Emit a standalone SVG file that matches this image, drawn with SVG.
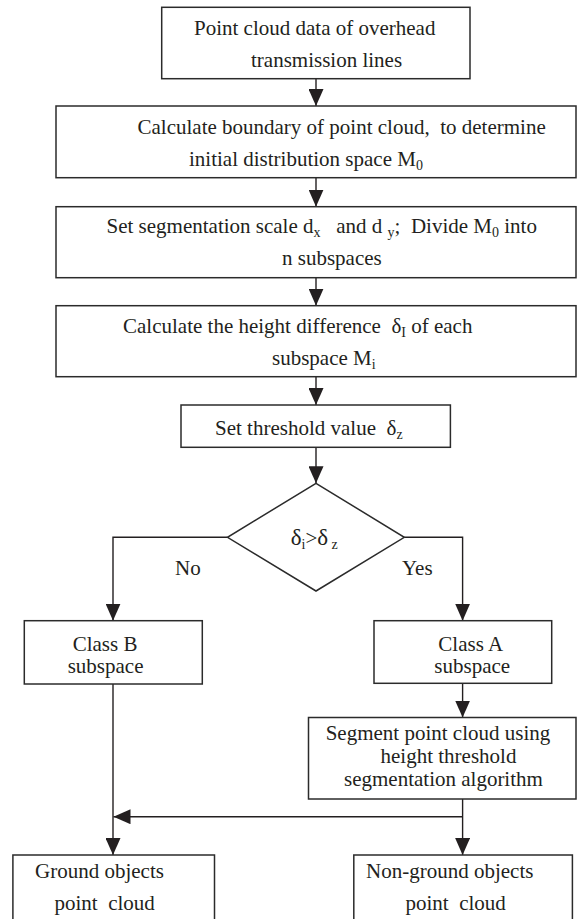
<svg xmlns="http://www.w3.org/2000/svg" width="578" height="919" viewBox="0 0 578 919">
<style>
  .box{fill:#fff;stroke:#2b2b2b;stroke-width:1.5}
  .t{font-family:"Liberation Serif","Times New Roman",serif;font-size:21px;fill:#231f20;white-space:pre}
  .s{font-size:14px}
  .c{fill:none;stroke:#231f20;stroke-width:1.4}
</style>
<defs>
  <marker id="ah" markerUnits="userSpaceOnUse" markerWidth="18" markerHeight="15" refX="17" refY="7.5" orient="auto">
    <path d="M0,0 L17,7.5 L0,15 z" fill="#231f20"/>
  </marker>
</defs>
<rect width="578" height="919" fill="#fff"/>
<g id="connectors">
  <line class="c" x1="316" y1="78.7" x2="316" y2="106" marker-end="url(#ah)"/>
  <line class="c" x1="316" y1="177.7" x2="316" y2="206.7" marker-end="url(#ah)"/>
  <line class="c" x1="316" y1="277.7" x2="316" y2="305.7" marker-end="url(#ah)"/>
  <line class="c" x1="316" y1="376.7" x2="316" y2="405" marker-end="url(#ah)"/>
  <line class="c" x1="316" y1="447.3" x2="316" y2="483.3" marker-end="url(#ah)"/>
  <polyline class="c" points="227.5,537.3 113,537.3 113,620.7" marker-end="url(#ah)"/>
  <polyline class="c" points="404.3,537.3 462.6,537.3 462.6,620.7" marker-end="url(#ah)"/>
  <line class="c" x1="462.6" y1="683.3" x2="462.6" y2="717.5" marker-end="url(#ah)"/>
  <line class="c" x1="113" y1="684" x2="113" y2="855" marker-end="url(#ah)"/>
  <line class="c" x1="462.6" y1="799" x2="462.6" y2="855" marker-end="url(#ah)"/>
  <line class="c" x1="462.6" y1="816.7" x2="113.5" y2="816.7" marker-end="url(#ah)"/>
</g>
<g id="n1">
  <rect class="box" x="161.7" y="7.3" width="308.3" height="71.4"/>
  <text class="t" x="194" y="35">Point cloud data of overhead</text>
  <text class="t" x="251" y="66.7">transmission lines</text>
</g>
<g id="n2">
  <rect class="box" x="56" y="106" width="520" height="71.7"/>
  <text class="t" x="137.5" y="134.3">Calculate boundary of point cloud,  to determine</text>
  <text class="t" x="189" y="166">initial distribution space M<tspan class="s" dy="4">0</tspan></text>
</g>
<g id="n3">
  <rect class="box" x="56" y="206.7" width="520" height="71"/>
  <text class="t" x="106.5" y="233.3">Set segmentation scale d<tspan class="s" dy="4">x</tspan><tspan dy="-4">   and d </tspan><tspan class="s" dy="4">y</tspan><tspan dy="-4">;  Divide M</tspan><tspan class="s" dy="4">0</tspan><tspan dy="-4"> into</tspan></text>
  <text class="t" x="282" y="265">n subspaces</text>
</g>
<g id="n4">
  <rect class="box" x="56" y="305.7" width="520" height="71"/>
  <text class="t" x="123" y="333.3">Calculate the height difference  δ<tspan class="s" dy="4">I</tspan><tspan dy="-4"> of each</tspan></text>
  <text class="t" x="272" y="365">subspace M<tspan class="s" dy="4">i</tspan></text>
</g>
<g id="n5">
  <rect class="box" x="181" y="405" width="269.4" height="42.3"/>
  <text class="t" x="215" y="435">Set threshold value  δ<tspan class="s" dy="4">z</tspan></text>
</g>
<g id="n6">
  <polygon class="box" points="316,483.3 404.3,537.3 316,591 227.5,537.3"/>
  <text class="t" x="290.7" y="545"><tspan style="font-size:23px">δ</tspan><tspan class="s" dy="4">i</tspan><tspan dy="-4">&gt;</tspan><tspan style="font-size:23px">δ</tspan><tspan class="s" dy="4"> z</tspan></text>
  <text class="t" x="175" y="575">No</text>
  <text class="t" x="402" y="575">Yes</text>
</g>
<g id="n7">
  <rect class="box" x="24.3" y="620.7" width="178" height="63.3"/>
  <text class="t" x="72.7" y="650.7">Class B</text>
  <text class="t" x="67.7" y="673">subspace</text>
</g>
<g id="n8">
  <rect class="box" x="374" y="620.7" width="177.7" height="62.6"/>
  <text class="t" x="438.3" y="650.7">Class A</text>
  <text class="t" x="434.3" y="673">subspace</text>
</g>
<g id="n9">
  <rect class="box" x="308.5" y="717.5" width="267.5" height="81.5"/>
  <text class="t" x="325.7" y="740">Segment point cloud using</text>
  <text class="t" x="380.5" y="763.3">height threshold</text>
  <text class="t" x="344" y="786">segmentation algorithm</text>
</g>
<g id="n10">
  <rect class="box" x="12.9" y="855" width="201.6" height="80"/>
  <text class="t" x="35" y="878">Ground objects</text>
  <text class="t" x="54.5" y="910">point  cloud</text>
</g>
<g id="n11">
  <rect class="box" x="353.8" y="855" width="218.6" height="80"/>
  <text class="t" x="366" y="878">Non-ground objects</text>
  <text class="t" x="405.5" y="910">point  cloud</text>
</g>
</svg>
